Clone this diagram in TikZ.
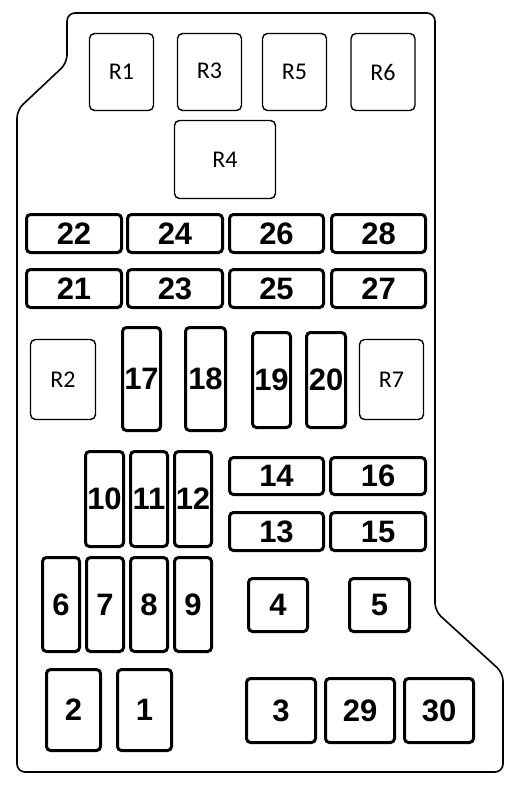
\documentclass[tikz,border=0pt]{standalone}
\usepackage{fontspec}
\setmainfont{Liberation Sans}
\newfontfamily\relayfont{Carlito}

\begin{document}
\begin{tikzpicture}[x=1pt,y=-1pt,
    fuse/.style={draw, line width=3pt, rounded corners=4pt, inner sep=0pt,
      font=\fontsize{31}{31}\selectfont\bfseries},
    relay/.style={draw, line width=1.4pt, rounded corners=5pt, inner sep=0pt,
      font=\relayfont\fontsize{24}{24}\selectfont}]
	\useasboundingbox (0,0) rectangle (526,789);
	% housing outline
	\draw [line width=1.6pt, rounded corners=8pt] (67,13) -- (435,13) -- (435,611) -- (503,673)
		-- (503,772) -- (17,772) -- (17,110) -- (67,63) -- cycle;
	% relays
	\node [relay, minimum width=64pt, minimum height=77pt] (r1) at (121.5,72) {R1};
	\node [relay, minimum width=64pt, minimum height=77pt] (r3) at (209.5,72) {\raisebox{3pt}{R3}};
	\node [relay, minimum width=64pt, minimum height=77pt] (r5) at (294.5,72) {R5};
	\node [relay, minimum width=64pt, minimum height=77pt] (r6) at (383,72) {R6};
	\node [relay, minimum width=101pt, minimum height=78pt] (r4) at (225,159.5) {R4};
	\node [relay, minimum width=65pt, minimum height=80pt] (r2) at (63,379.5) {R2};
	\node [relay, minimum width=64pt, minimum height=80pt] (r7) at (391.5,379.5) {R7};
	% upper fuse rows
	\node [fuse, minimum width=95pt, minimum height=38pt] (f22) at (74,233.5) {22};
	\node [fuse, minimum width=95pt, minimum height=38pt] (f24) at (175,233.5) {24};
	\node [fuse, minimum width=94pt, minimum height=38pt] (f26) at (276.5,233.5) {26};
	\node [fuse, minimum width=94pt, minimum height=38pt] (f28) at (378.5,233.5) {28};
	\node [fuse, minimum width=95pt, minimum height=38pt] (f21) at (74,288.5) {21};
	\node [fuse, minimum width=95pt, minimum height=38pt] (f23) at (175,288.5) {23};
	\node [fuse, minimum width=94pt, minimum height=38pt] (f25) at (276.5,288.5) {25};
	\node [fuse, minimum width=94pt, minimum height=38pt] (f27) at (378.5,288.5) {27};
	% tall fuses
	\node [fuse, minimum width=38pt, minimum height=103pt] (f17) at (141.5,379) {17};
	\node [fuse, minimum width=40pt, minimum height=103pt] (f18) at (205.5,379) {18};
	\node [fuse, minimum width=38pt, minimum height=95pt] (f19) at (271.5,380) {19};
	\node [fuse, minimum width=39pt, minimum height=95pt] (f20) at (326,380) {20};
	\node [fuse, minimum width=38pt, minimum height=95pt] (f10) at (104.5,499) {10};
	\node [fuse, minimum width=37pt, minimum height=95pt] (f11) at (149,499) {11};
	\node [fuse, minimum width=37pt, minimum height=95pt] (f12) at (193,499) {12};
	\node [fuse, minimum width=94pt, minimum height=37pt] (f14) at (276.5,476) {14};
	\node [fuse, minimum width=95pt, minimum height=37pt] (f16) at (378,476) {16};
	\node [fuse, minimum width=94pt, minimum height=38pt] (f13) at (276.5,531.5) {13};
	\node [fuse, minimum width=95pt, minimum height=38pt] (f15) at (378,531.5) {15};
	\node [fuse, minimum width=37pt, minimum height=94pt] (f6) at (61,604.5) {6};
	\node [fuse, minimum width=37pt, minimum height=94pt] (f7) at (105,604.5) {7};
	\node [fuse, minimum width=37pt, minimum height=94pt] (f8) at (149,604.5) {8};
	\node [fuse, minimum width=37pt, minimum height=94pt] (f9) at (193,604.5) {9};
	% square fuses
	\node [fuse, minimum width=59pt, minimum height=53pt] (f4) at (278,605) {4};
	\node [fuse, minimum width=60pt, minimum height=53pt] (f5) at (379.5,605) {5};
	\node [fuse, minimum width=54pt, minimum height=81pt] (f2) at (73.5,710) {2};
	\node [fuse, minimum width=54pt, minimum height=81pt] (f1) at (144.5,710) {1};
	\node [fuse, minimum width=69pt, minimum height=64pt] (f3) at (281,710.5) {3};
	\node [fuse, minimum width=69pt, minimum height=64pt] (f29) at (360,710.5) {29};
	\node [fuse, minimum width=69pt, minimum height=64pt] (f30) at (439,710.5) {30};
\end{tikzpicture}
\end{document}
